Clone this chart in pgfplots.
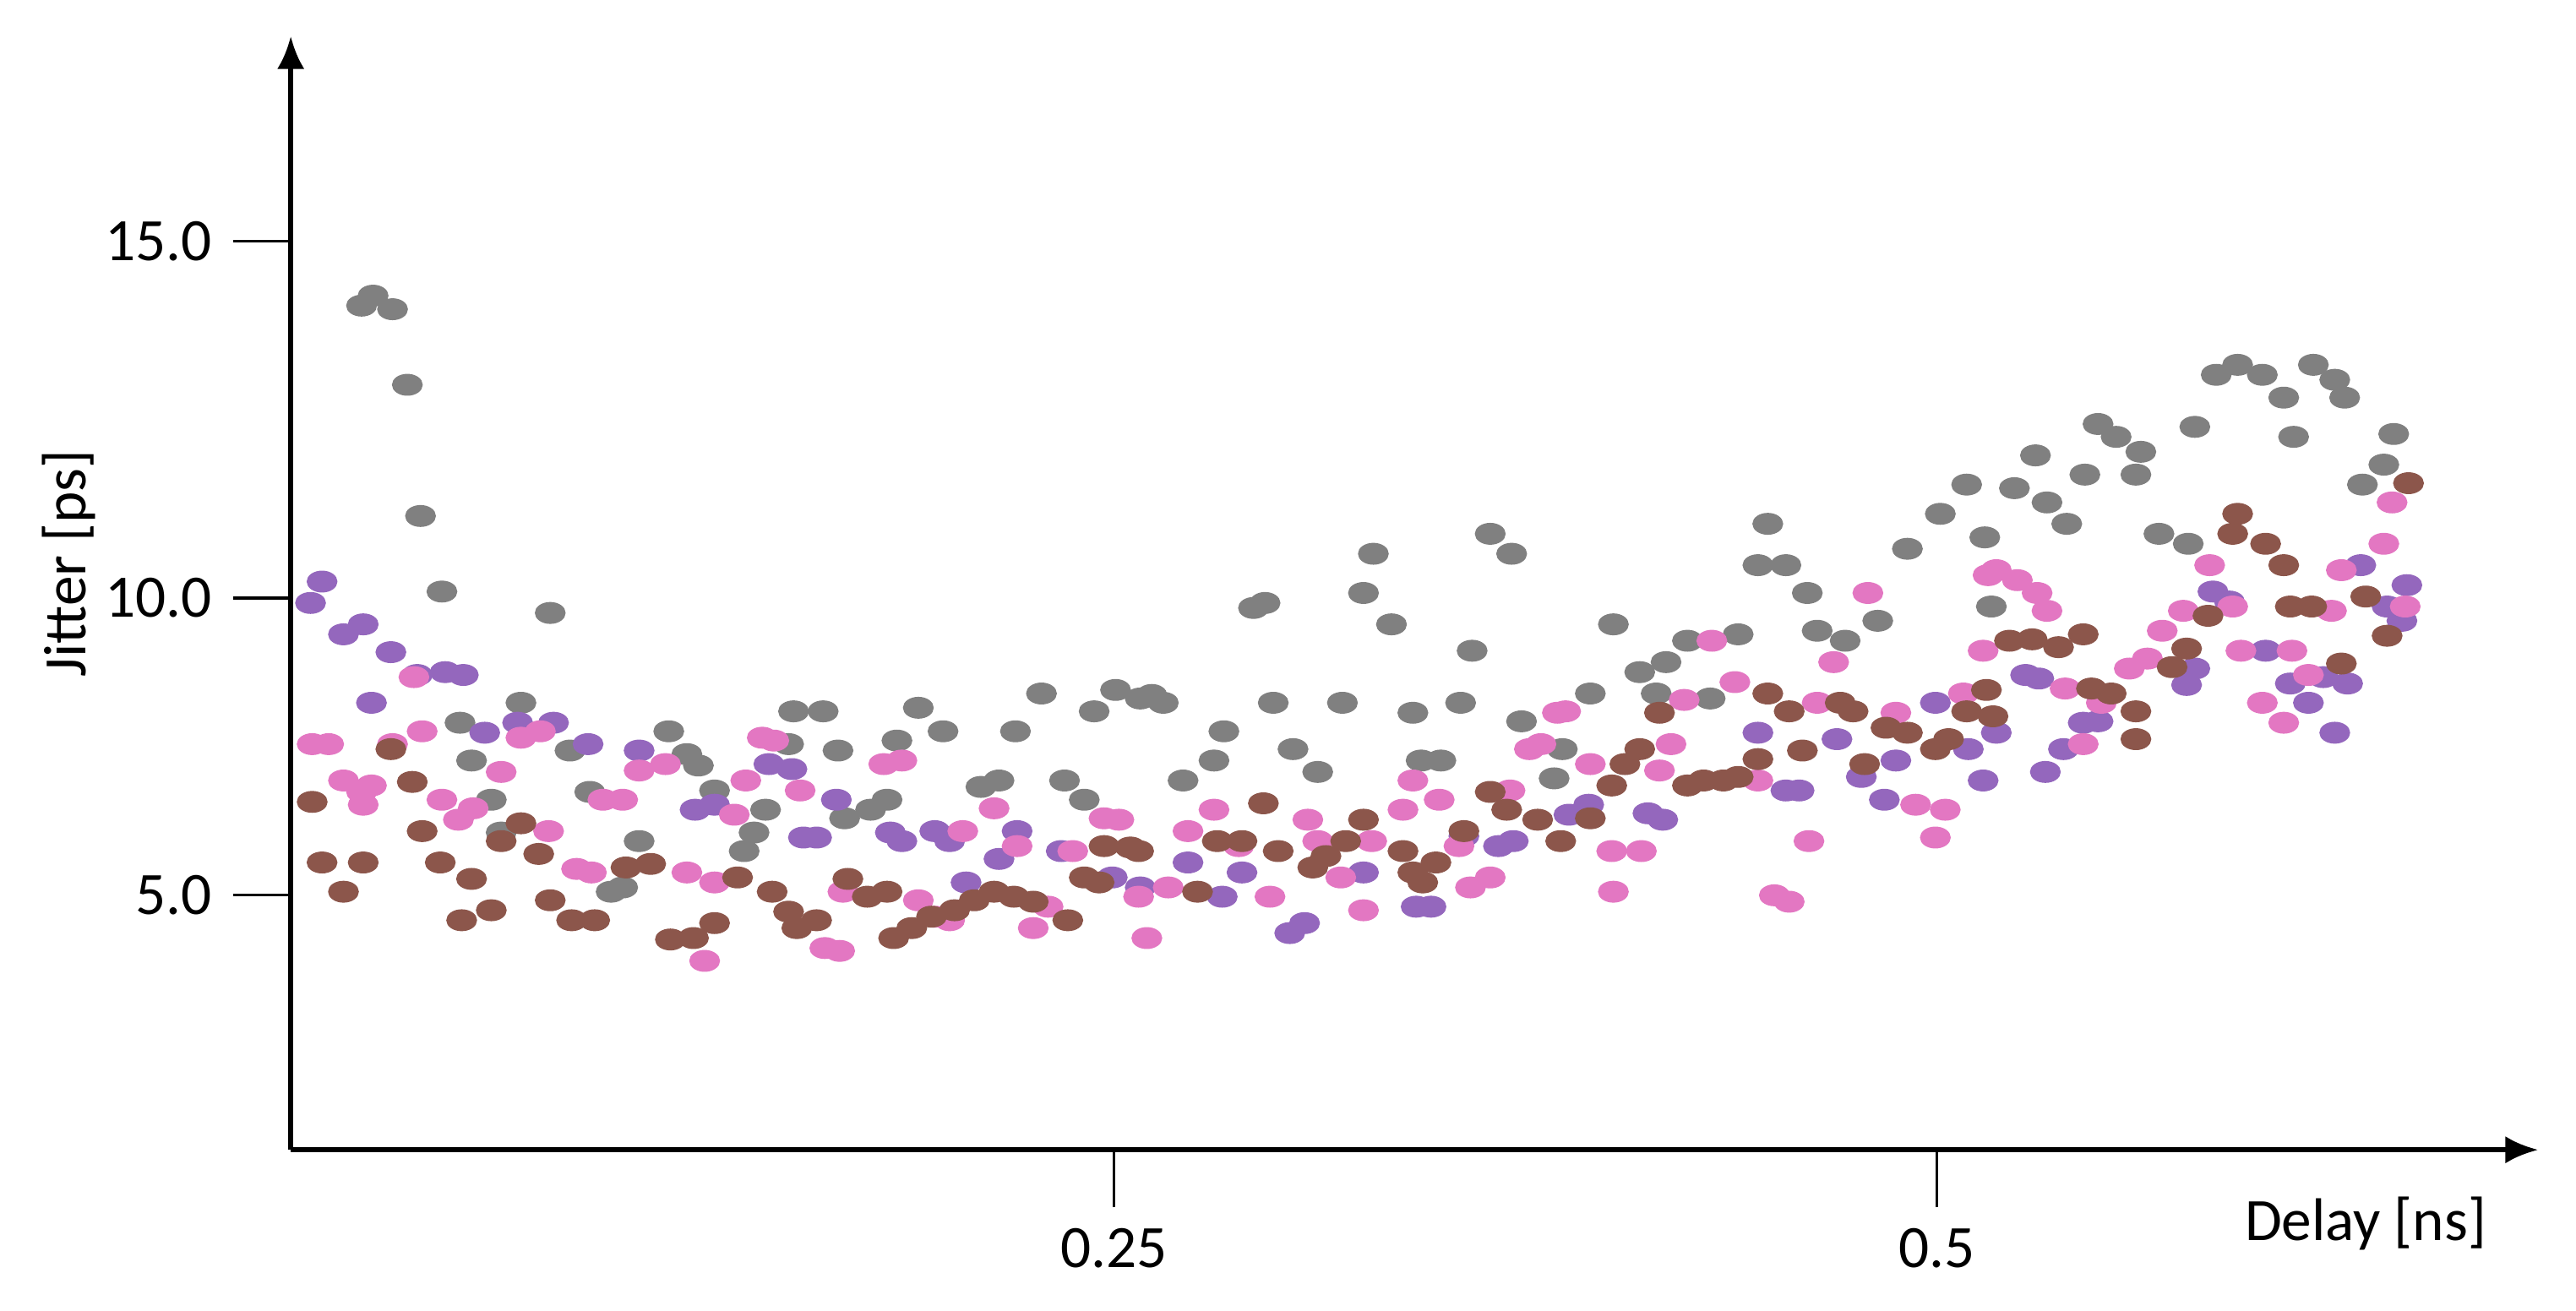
\documentclass[border=0pt]{standalone}
\usepackage{fontspec}
\setmainfont{Carlito}
\usepackage{pgfplots}
\pgfplotsset{compat=1.18}
\usetikzlibrary{arrows.meta}
\definecolor{cgray}{HTML}{808080}
\definecolor{cpurple}{HTML}{9467BD}
\definecolor{cpink}{HTML}{E377C2}
\definecolor{cbrown}{HTML}{8C564B}
\begin{document}
\fontsize{11pt}{13pt}\selectfont
\begin{tikzpicture}
\path[use as bounding box] (-53.1pt,-29.4pt) rectangle (417.3pt,210pt);
\begin{axis}[at={(0pt,0pt)}, anchor=south west, scale only axis,
 width=410.4pt, height=203.4pt,
 xmin=0, xmax=0.6826, ymin=2.26, ymax=17.88,
 axis lines=left,
 axis line style={line width=0.9pt, -{Latex[length=6pt,width=5pt]}},
 xtick={0.25,0.5}, xticklabels={0.25,0.5},
 ytick={5.83,10,15}, yticklabels={5.0,10.0,15.0},
 tick align=outside, major tick length=10.5pt,
 tick style={line width=0.5pt, black},
 xlabel={Delay [ns]}, ylabel={Jitter [ps]},
 x label style={at={(axis description cs:0.9232,0)}, anchor=center, yshift=-13.5pt},
 y label style={at={(axis description cs:-0.0987,0.5265)}, anchor=center},
 clip=false,
 every axis plot/.append style={only marks, mark=*, mark size=1.8pt},
]
\addplot[cgray, mark options={draw=cgray, fill=cgray, xscale=1.45}] coordinates {
(0.0215,14.10)(0.0250,14.24)(0.0309,14.05)(0.0354,12.99)(0.0394,11.15)(0.0459,10.09)(0.0514,8.25)(0.0549,7.72)(0.0609,7.17)(0.0639,6.71)(0.0699,8.53)(0.0788,9.79)(0.0848,7.86)(0.0908,7.28)(0.0973,5.88)(0.1008,5.94)(0.1058,6.59)(0.1148,8.13)(0.1203,7.81)(0.1238,7.65)(0.1287,7.30)(0.1377,6.45)(0.1407,6.71)(0.1442,7.03)(0.1512,7.95)(0.1527,8.41)(0.1617,8.41)(0.1662,7.86)(0.1682,6.91)(0.1761,7.03)(0.1811,7.17)(0.1841,8.00)(0.1906,8.46)(0.1981,8.13)(0.2096,7.35)(0.2151,7.44)(0.2201,8.13)(0.2280,8.66)(0.2350,7.44)(0.2410,7.17)(0.2440,8.41)(0.2505,8.71)(0.2580,8.59)(0.2615,8.64)(0.2650,8.53)(0.2710,7.44)(0.2804,7.72)(0.2834,8.13)(0.2924,9.86)(0.2959,9.93)(0.2984,8.53)(0.3044,7.88)(0.3119,7.56)(0.3194,8.53)(0.3258,10.07)(0.3288,10.62)(0.3343,9.63)(0.3408,8.39)(0.3433,7.72)(0.3493,7.72)(0.3553,8.53)(0.3588,9.26)(0.3643,10.90)(0.3708,10.62)(0.3738,8.27)(0.3837,7.47)(0.3862,7.88)(0.3947,8.66)(0.4017,9.63)(0.4097,8.96)(0.4147,8.66)(0.4177,9.10)(0.4242,9.40)(0.4311,8.59)(0.4396,9.49)(0.4456,10.46)(0.4486,11.04)(0.4541,10.46)(0.4606,10.07)(0.4636,9.54)(0.4721,9.40)(0.4820,9.68)(0.4910,10.69)(0.5010,11.18)(0.5090,11.59)(0.5145,10.85)(0.5165,9.88)(0.5235,11.54)(0.5299,12.00)(0.5334,11.34)(0.5394,11.04)(0.5449,11.73)(0.5489,12.44)(0.5544,12.26)(0.5604,11.73)(0.5619,12.05)(0.5674,10.90)(0.5763,10.76)(0.5783,12.40)(0.5848,13.13)(0.5913,13.27)(0.5988,13.13)(0.6053,12.81)(0.6083,12.26)(0.6143,13.27)(0.6208,13.06)(0.6238,12.81)(0.6292,11.59)(0.6357,11.87)(0.6387,12.30)
};
\addplot[cpurple, mark options={draw=cpurple, fill=cpurple, xscale=1.45}] coordinates {
(0.0060,9.93)(0.0095,10.23)(0.0160,9.49)(0.0220,9.63)(0.0245,8.53)(0.0304,9.24)(0.0384,8.92)(0.0469,8.96)(0.0524,8.92)(0.0589,8.11)(0.0689,8.25)(0.0798,8.25)(0.0903,7.95)(0.1058,7.86)(0.1228,7.03)(0.1287,7.10)(0.1452,7.67)(0.1522,7.60)(0.1557,6.64)(0.1597,6.64)(0.1657,7.17)(0.1821,6.71)(0.1856,6.59)(0.1956,6.73)(0.2001,6.59)(0.2051,6.01)(0.2151,6.34)(0.2206,6.73)(0.2340,6.45)(0.2495,6.08)(0.2580,5.94)(0.2725,6.29)(0.2829,5.81)(0.2889,6.15)(0.3034,5.30)(0.3079,5.44)(0.3258,6.15)(0.3418,5.67)(0.3463,5.67)(0.3563,6.66)(0.3668,6.52)(0.3713,6.59)(0.3882,6.96)(0.3942,7.10)(0.4122,6.98)(0.4167,6.89)(0.4456,8.11)(0.4541,7.30)(0.4581,7.30)(0.4696,8.02)(0.4770,7.49)(0.4840,7.17)(0.4875,7.72)(0.4995,8.53)(0.5095,7.88)(0.5140,7.44)(0.5180,8.11)(0.5269,8.92)(0.5309,8.87)(0.5329,7.56)(0.5384,7.88)(0.5444,8.25)(0.5489,8.27)(0.5758,8.78)(0.5783,9.01)(0.5838,10.09)(0.5888,9.95)(0.5998,9.26)(0.6073,8.80)(0.6128,8.53)(0.6173,8.89)(0.6208,8.11)(0.6247,8.80)(0.6287,10.46)(0.6367,9.88)(0.6412,9.68)(0.6427,10.18)
};
\addplot[cpink, mark options={draw=cpink, fill=cpink, xscale=1.45}] coordinates {
(0.0065,7.95)(0.0115,7.95)(0.0160,7.44)(0.0215,7.28)(0.0220,7.10)(0.0245,7.37)(0.0309,7.95)(0.0374,8.89)(0.0399,8.13)(0.0459,7.17)(0.0509,6.89)(0.0554,7.05)(0.0639,7.56)(0.0699,8.04)(0.0758,8.13)(0.0783,6.73)(0.0868,6.20)(0.0913,6.15)(0.0948,7.17)(0.1008,7.17)(0.1058,7.58)(0.1138,7.67)(0.1203,6.15)(0.1257,4.91)(0.1287,6.01)(0.1347,6.96)(0.1382,7.44)(0.1432,8.04)(0.1467,8.00)(0.1547,7.30)(0.1622,5.09)(0.1667,5.05)(0.1677,5.88)(0.1801,7.67)(0.1856,7.72)(0.1906,5.76)(0.1956,5.53)(0.2001,5.48)(0.2041,6.73)(0.2136,7.05)(0.2206,6.52)(0.2255,5.37)(0.2300,5.67)(0.2375,6.45)(0.2470,6.91)(0.2515,6.89)(0.2575,5.81)(0.2600,5.23)(0.2665,5.94)(0.2725,6.73)(0.2804,7.03)(0.2879,6.52)(0.2974,5.81)(0.3089,6.89)(0.3119,6.59)(0.3189,6.08)(0.3258,5.62)(0.3283,6.59)(0.3378,7.03)(0.3408,7.44)(0.3488,7.17)(0.3548,6.52)(0.3583,5.94)(0.3643,6.08)(0.3703,7.30)(0.3762,7.88)(0.3797,7.95)(0.3847,8.39)(0.3872,8.41)(0.3947,7.67)(0.4012,6.45)(0.4017,5.88)(0.4102,6.45)(0.4157,7.58)(0.4192,7.95)(0.4232,8.57)(0.4316,9.40)(0.4386,8.82)(0.4456,7.44)(0.4506,5.83)(0.4551,5.74)(0.4611,6.59)(0.4636,8.53)(0.4686,9.10)(0.4790,10.07)(0.4875,8.39)(0.4935,7.10)(0.4995,6.64)(0.5025,7.03)(0.5080,8.66)(0.5140,9.26)(0.5155,10.32)(0.5180,10.39)(0.5244,10.25)(0.5304,10.07)(0.5334,9.82)(0.5389,8.73)(0.5444,7.95)(0.5499,8.53)(0.5584,9.01)(0.5639,9.15)(0.5684,9.54)(0.5748,9.82)(0.5828,10.46)(0.5898,9.88)(0.5923,9.26)(0.5988,8.53)(0.6053,8.25)(0.6078,9.26)(0.6128,8.92)(0.6198,9.82)(0.6228,10.39)(0.6357,10.76)(0.6382,11.34)(0.6422,9.88)
};
\addplot[cbrown, mark options={draw=cbrown, fill=cbrown, xscale=1.45}] coordinates {
(0.0065,7.14)(0.0095,6.29)(0.0160,5.88)(0.0220,6.29)(0.0304,7.88)(0.0369,7.42)(0.0399,6.73)(0.0454,6.29)(0.0519,5.48)(0.0549,6.06)(0.0609,5.62)(0.0639,6.59)(0.0699,6.84)(0.0753,6.41)(0.0788,5.76)(0.0853,5.48)(0.0923,5.48)(0.1018,6.22)(0.1093,6.27)(0.1153,5.21)(0.1223,5.23)(0.1287,5.44)(0.1357,6.08)(0.1462,5.88)(0.1512,5.60)(0.1537,5.37)(0.1597,5.48)(0.1692,6.06)(0.1751,5.81)(0.1811,5.88)(0.1831,5.23)(0.1886,5.37)(0.1946,5.53)(0.2016,5.62)(0.2076,5.76)(0.2136,5.88)(0.2196,5.81)(0.2255,5.74)(0.2360,5.48)(0.2410,6.08)(0.2455,6.01)(0.2470,6.52)(0.2550,6.50)(0.2575,6.45)(0.2754,5.88)(0.2814,6.59)(0.2889,6.59)(0.2954,7.12)(0.2999,6.45)(0.3104,6.22)(0.3144,6.38)(0.3204,6.59)(0.3258,6.89)(0.3378,6.45)(0.3408,6.15)(0.3438,6.01)(0.3478,6.29)(0.3563,6.73)(0.3643,7.28)(0.3693,7.03)(0.3787,6.89)(0.3857,6.59)(0.3947,6.91)(0.4012,7.37)(0.4052,7.67)(0.4097,7.88)(0.4157,8.39)(0.4242,7.37)(0.4291,7.44)(0.4351,7.44)(0.4396,7.49)(0.4456,7.74)(0.4486,8.66)(0.4551,8.41)(0.4591,7.86)(0.4706,8.53)(0.4745,8.41)(0.4780,7.67)(0.4845,8.18)(0.4910,8.11)(0.4995,7.88)(0.5035,8.02)(0.5090,8.41)(0.5150,8.71)(0.5170,8.34)(0.5220,9.40)(0.5289,9.42)(0.5369,9.31)(0.5444,9.49)(0.5469,8.73)(0.5529,8.66)(0.5604,8.41)(0.5604,8.02)(0.5714,9.03)(0.5758,9.29)(0.5823,9.75)(0.5898,10.90)(0.5913,11.18)(0.5998,10.76)(0.6053,10.46)(0.6073,9.88)(0.6138,9.88)(0.6228,9.08)(0.6302,10.02)(0.6367,9.47)(0.6432,11.61)
};
\end{axis}
\end{tikzpicture}
\end{document}
